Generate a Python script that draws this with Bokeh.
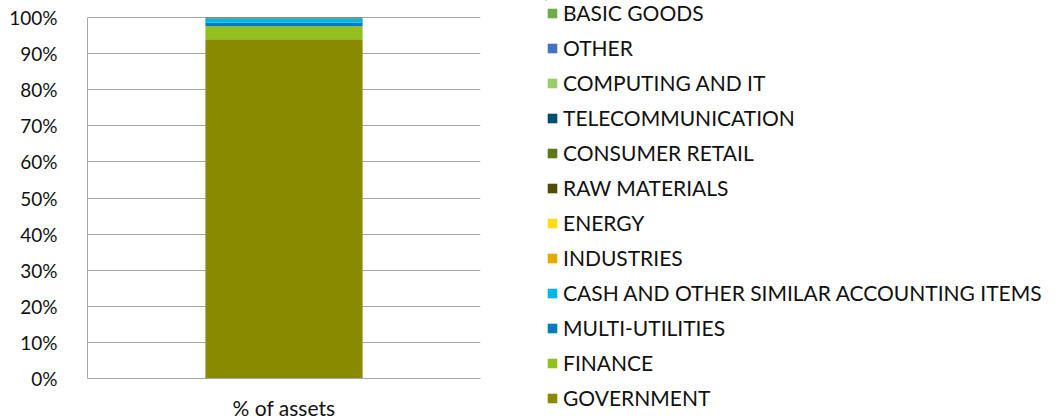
from bokeh.plotting import figure
from bokeh.layouts import row
from bokeh.models import (ColumnDataSource, Legend, LegendItem, FactorRange, Range1d, FixedTicker,
                          CustomJSTickFormatter)
from bokeh.embed import file_html
from bokeh.resources import INLINE

categories = ["% of assets"]
sectors = ["GOVERNMENT", "FINANCE", "MULTI-UTILITIES", "CASH AND OTHER SIMILAR ACCOUNTING ITEMS",
           "INDUSTRIES", "ENERGY", "RAW MATERIALS", "CONSUMER RETAIL", "TELECOMMUNICATION",
           "COMPUTING AND IT", "OTHER", "BASIC GOODS"]
values = [94.0, 3.6, 1.0, 1.1, 0.0, 0.0, 0.1, 0.2, 0.0, 0.0, 0.0, 0.0]
colors = ["#8a8a00", "#93c01f", "#007dbd", "#00b5eb", "#e8a800", "#ffdd11", "#4f4f00",
          "#5a7a1a", "#004d70", "#99cc66", "#4472c4", "#70ad47"]
y_ticks = [0, 10, 20, 30, 40, 50, 60, 70, 80, 90, 100]

FONT = "Lato"
FS = "21px"
FRAME_W, FRAME_H = 393, 378
TOP_GAP = 17  # pixels above the 100% line inside the frame

data = {"cat": categories}
keys = []
for i, v in enumerate(values):
    k = "s%d" % i
    keys.append(k)
    data[k] = [v]
src = ColumnDataSource(data)

y_end = 100 + TOP_GAP * 100.0 / (FRAME_H - TOP_GAP)

# ---- chart ----
p = figure(x_range=FactorRange(*categories, range_padding=0), y_range=Range1d(0, y_end),
           frame_width=FRAME_W, frame_height=FRAME_H, output_backend="svg", toolbar_location=None,
           min_border_left=87, min_border_right=20, min_border_top=0, min_border_bottom=40)
p.vbar_stack(keys, x="cat", width=0.4, color=colors, source=src, line_width=0)

p.outline_line_color = None
p.xgrid.grid_line_color = None
p.ygrid.grid_line_color = "#a6a6a6"
p.ygrid.grid_line_width = 1

p.yaxis.ticker = FixedTicker(ticks=y_ticks)
p.yaxis.bounds = (0, 100)
p.yaxis.formatter = CustomJSTickFormatter(code="return tick + '%';")
p.yaxis.major_tick_line_color = None
p.yaxis.minor_tick_line_color = None
p.yaxis.axis_line_color = "#a6a6a6"
p.yaxis.major_label_text_font = FONT
p.yaxis.major_label_text_font_size = "19px"
p.yaxis.major_label_text_color = "#111111"
p.yaxis.major_label_standoff = 24

p.xaxis.major_tick_line_color = None
p.xaxis.minor_tick_line_color = None
p.xaxis.axis_line_color = "#a6a6a6"
p.xaxis.major_label_text_font = FONT
p.xaxis.major_label_text_font_size = FS
p.xaxis.major_label_text_color = "#111111"
p.xaxis.major_label_standoff = 10

# ---- legend holder (same series, kept outside its visible range) ----
lg = figure(x_range=FactorRange(*categories), y_range=Range1d(-1001, -1000),
            frame_width=1, frame_height=FRAME_H, output_backend="svg", toolbar_location=None,
            x_axis_location=None, y_axis_location=None,
            min_border_left=45, min_border_right=0, min_border_top=0, min_border_bottom=40)
lg.outline_line_color = None
lg.xgrid.grid_line_color = None
lg.ygrid.grid_line_color = None
lrends = lg.vbar_stack(keys, x="cat", width=0.4, color=colors, source=src, line_width=0)

items = [LegendItem(label=sectors[i], renderers=[lrends[i]]) for i in range(len(sectors) - 1, -1, -1)]
legend = Legend(items=items, location="top_left", orientation="vertical",
                glyph_width=12, glyph_height=12, label_standoff=5,
                label_height=25, spacing=10, padding=3, margin=0,
                label_text_font=FONT, label_text_font_size=FS, label_text_color="#111111",
                background_fill_alpha=0, border_line_color=None)
lg.add_layout(legend, "right")

layout = row(p, lg, spacing=0)
open("out.html", "w").write(file_html(layout, INLINE))
